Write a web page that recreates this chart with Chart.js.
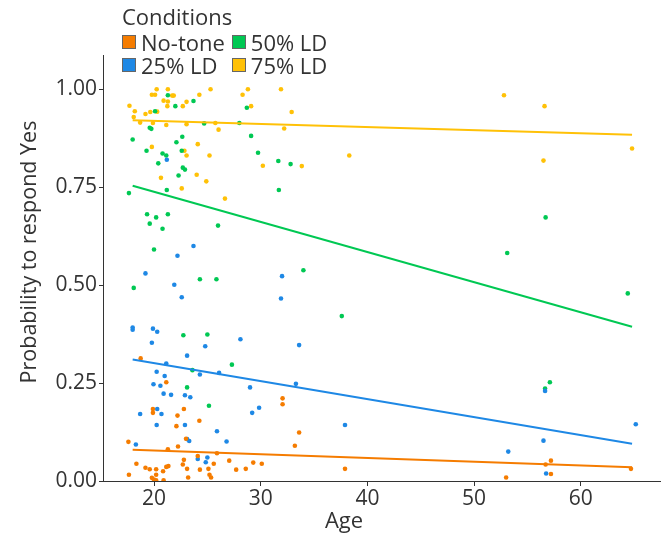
<!DOCTYPE html>
<html>
<head>
<meta charset="utf-8">
<script src="https://cdn.jsdelivr.net/npm/chart.js@4"></script>
<style>
  body { margin: 0; background: #fff; }
  #wrap { position: relative; width: 664px; height: 536px; font-family: "Open Sans", sans-serif; color: #333; }
  #legend { position: absolute; left: 122px; top: 3px; }
  #legend .ttl { font-size: 22px; line-height: 27px; }
  #legend .items { display: grid; grid-template-rows: 23px 23px; grid-auto-flow: column; column-gap: 7px; }
  #legend .it { display: flex; align-items: center; font-size: 22px; }
  #legend .sw { width: 12px; height: 12px; border: 1px solid #666; margin-right: 5px; }
</style>
</head>
<body>
<div id="wrap">
  <canvas id="myChart" width="664" height="536"></canvas>
  <div id="legend"></div>
</div>
<script>
// ages / probabilities, [age, p]
var noTone = [[18.75,0.313],[21.15,0.252],[19.9,0.184],[19.9,0.174],[22.8,0.184],[22.2,0.167],[22.1,0.140],[24.25,0.154],
  [17.6,0.100],[23.0,0.108],[22.25,0.088],[21.3,0.081],[25.9,0.071],[24.1,0.064],[22.8,0.054],[27.05,0.052],[29.3,0.047],
  [30.1,0.044],[25.6,0.044],[22.7,0.042],[18.35,0.044],[19.2,0.034],[19.6,0.030],[20.2,0.030],[21.35,0.038],[21.15,0.036],
  [20.85,0.025],[23.1,0.031],[24.3,0.029],[25.1,0.031],[27.7,0.029],[28.6,0.031],[17.65,0.016],[19.8,0.008],[20.0,0.004],
  [20.2,0.002],[20.2,0.016],[20.9,0.002],[23.2,0.009],[25.2,0.016],[25.35,0.009],[32.05,0.211],[32.05,0.196],[33.6,0.124],
  [33.2,0.090],[37.9,0.031],[53.0,0.009],[57.2,0.052],[56.7,0.042],[57.2,0.018],[64.7,0.031]];
var ld25 = [[21.2,0.820],[23.7,0.600],[22.2,0.575],[19.2,0.530],[32.0,0.523],[21.9,0.501],[22.6,0.469],[31.9,0.466],
  [18.0,0.392],[18.0,0.386],[19.9,0.389],[20.3,0.381],[19.8,0.353],[24.8,0.344],[28.1,0.362],[23.1,0.320],[20.25,0.279],
  [21.15,0.300],[21.0,0.268],[24.3,0.272],[26.1,0.276],[19.95,0.247],[20.6,0.243],[20.9,0.223],[21.6,0.220],[22.9,0.219],
  [23.4,0.214],[29.0,0.239],[20.3,0.184],[20.7,0.171],[18.7,0.171],[29.2,0.174],[29.85,0.187],[20.25,0.143],[22.9,0.143],
  [25.9,0.127],[23.1,0.107],[23.3,0.102],[26.8,0.101],[18.3,0.093],[24.1,0.056],[25.0,0.060],[24.85,0.048],[33.3,0.248],
  [33.6,0.347],[37.9,0.143],[53.2,0.075],[56.5,0.103],[56.75,0.019],[56.65,0.230],[65.15,0.145]];
var ld50 = [[21.3,0.985],[20.1,0.944],[23.7,0.970],[22.0,0.957],[28.7,0.953],[24.7,0.913],[28.0,0.914],[19.6,0.902],
  [19.75,0.899],[18.0,0.872],[29.1,0.881],[22.1,0.865],[22.65,0.879],[19.3,0.843],[20.8,0.836],[21.15,0.831],[22.6,0.843],
  [29.75,0.838],[31.65,0.817],[32.8,0.809],[20.4,0.811],[22.7,0.800],[22.9,0.795],[22.3,0.780],[21.2,0.743],[31.7,0.743],
  [17.65,0.735],[19.35,0.681],[20.2,0.673],[21.3,0.681],[19.6,0.657],[20.8,0.644],[26.0,0.652],[20.0,0.591],[24.3,0.515],
  [25.85,0.515],[18.1,0.493],[22.75,0.372],[25.0,0.374],[27.3,0.297],[23.6,0.283],[23.1,0.239],[25.15,0.192],[34.0,0.538],
  [56.7,0.673],[53.1,0.582],[37.6,0.421],[64.4,0.479],[57.1,0.252],[56.65,0.236]];
var ld75 = [[20.25,1.00],[21.3,1.00],[25.3,1.00],[28.8,1.00],[31.9,1.00],[19.8,0.986],[20.1,0.986],[21.7,0.984],
  [21.85,0.984],[24.25,0.986],[28.3,0.986],[20.9,0.971],[21.3,0.969],[23.05,0.968],[17.7,0.958],[21.25,0.957],[22.7,0.957],
  [29.1,0.957],[18.2,0.944],[19.2,0.937],[19.65,0.942],[20.3,0.943],[32.9,0.942],[18.1,0.929],[18.7,0.915],[19.9,0.914],
  [21.15,0.909],[23.05,0.911],[25.75,0.914],[26.05,0.897],[32.2,0.900],[24.1,0.860],[19.8,0.853],[22.85,0.843],[23.05,0.831],
  [25.2,0.831],[30.2,0.805],[20.65,0.774],[24.0,0.782],[24.9,0.765],[22.6,0.747],[26.65,0.721],[38.3,0.831],[33.85,0.804],
  [52.8,0.985],[56.6,0.957],[56.5,0.818],[64.8,0.849]];

// fitted lines: value at age 18.0 and at 64.8
var fitAges = [18.0, 64.8];
var fitNoTone = [0.080, 0.035];
var fit25 = [0.310, 0.095];
var fit50 = [0.754, 0.394];
var fit75 = [0.921, 0.884];

var seriesNames = ['No-tone', '25% LD', '50% LD', '75% LD'];
var seriesColors = ['#F57C00', '#1E88E5', '#00C853', '#FFC107'];
var seriesPoints = [noTone, ld25, ld50, ld75];
var seriesFits = [fitNoTone, fit25, fit50, fit75];

var xTicks = [20, 30, 40, 50, 60];
var yTicks = [0, 0.25, 0.5, 0.75, 1];

var datasets = [];
for (var i = 0; i < seriesNames.length; i++) {
  datasets.push({
    type: 'scatter',
    label: seriesNames[i],
    data: seriesPoints[i].map(function (p) { return { x: p[0], y: p[1] }; }),
    backgroundColor: seriesColors[i],
    borderWidth: 0,
    pointRadius: 2.3,
    order: 2
  });
}
for (var i = 0; i < seriesNames.length; i++) {
  datasets.push({
    type: 'line',
    label: seriesNames[i] + ' fit',
    data: fitAges.map(function (a, k) { return { x: a, y: seriesFits[i][k] }; }),
    borderColor: seriesColors[i],
    borderWidth: 2,
    pointRadius: 0,
    fill: false,
    order: 1
  });
}

// axis titles drawn by hand so they sit where the original puts them
var axisTitles = {
  id: 'axisTitles',
  afterDraw: function (chart) {
    var c = chart.ctx;
    c.save();
    c.fillStyle = '#333';
    c.textAlign = 'center';
    c.textBaseline = 'middle';
    c.font = '22px "Open Sans"';
    c.fillText('Age', 344, 522);
    c.font = '21.5px "Open Sans"';
    c.translate(30, 252);
    c.rotate(-Math.PI / 2);
    c.fillText('Probability to respond Yes', 0, 0);
    c.restore();
  }
};

var ctx = document.getElementById('myChart');
var myChart = new Chart(ctx, {
  data: { datasets: datasets },
  options: {
    responsive: false,
    animation: false,
    layout: { padding: { top: 55, right: 4, left: 0, bottom: 0 } },
    plugins: { legend: { display: false }, tooltip: { enabled: false } },
    scales: {
      x: {
        type: 'linear',
        min: 15.22,
        max: 67.42,
        afterBuildTicks: function (ax) { ax.ticks = xTicks.map(function (v) { return { value: v }; }); },
        afterFit: function (ax) { ax.height = 55; },
        grid: { drawOnChartArea: false, drawTicks: true, tickLength: 5, color: '#333' },
        border: { display: true, color: '#333', width: 1 },
        ticks: { color: '#333', font: { family: 'Open Sans', size: 21 }, padding: 0 }
      },
      y: {
        type: 'linear',
        min: 0,
        max: 1.0876,
        afterBuildTicks: function (ax) { ax.ticks = yTicks.map(function (v) { return { value: v }; }); },
        afterFit: function (ax) { ax.width = 103; },
        grid: { drawOnChartArea: false, drawTicks: true, tickLength: 4, color: '#333' },
        border: { display: true, color: '#333', width: 1 },
        ticks: { color: '#333', font: { family: 'Open Sans', size: 21 }, padding: 2,
          callback: function (v) { return v.toFixed(2); } }
      }
    }
  },
  plugins: [axisTitles]
});

// legend, built from the same names / colours
var lg = document.getElementById('legend');
var html = '<div class="ttl">Conditions</div><div class="items">';
for (var i = 0; i < seriesNames.length; i++) {
  html += '<div class="it"><span class="sw" style="background:' + seriesColors[i] + '"></span>' + seriesNames[i] + '</div>';
}
lg.innerHTML = html + '</div>';
</script>
</body>
</html>
